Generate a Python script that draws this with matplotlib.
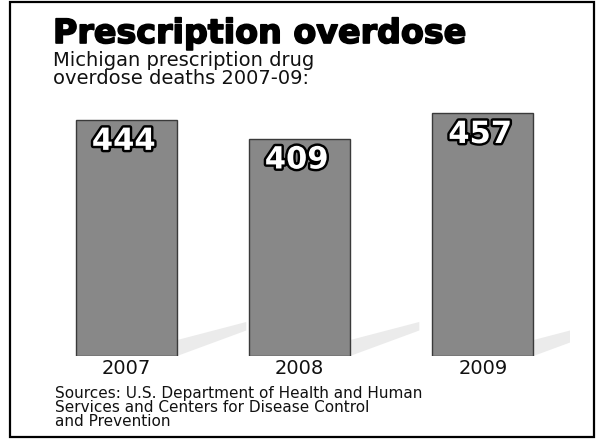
import matplotlib
matplotlib.use("Agg")
import matplotlib.pyplot as plt
import matplotlib.patheffects as pe
from matplotlib.patches import Rectangle, Polygon

years = ["2007", "2008", "2009"]
deaths = [444, 409, 457]

title = "Prescription overdose"
subtitle = "Michigan prescription drug\noverdose deaths 2007-09:"
source = ("Sources: U.S. Department of Health and Human\n"
          "Services and Centers for Disease Control\n"
          "and Prevention")

xpos = [0, 1, 2.06]
bar_w = 0.585

fig = plt.figure(figsize=(5.97, 4.44), dpi=100)
fig.patch.set_facecolor("white")

# outer frame
fig.patches.append(Rectangle((10 / 597, 7 / 444), 584 / 597, 435 / 444,
                             transform=fig.transFigure, fill=False,
                             edgecolor="black", linewidth=1.6))

ax = fig.add_axes([40 / 597, 88 / 444, 530 / 597, 260 / 444])
ax.set_xlim(-0.5, 2.5636)
ax.set_ylim(0, 489)
ax.axis("off")

# faint floor shadow to the right of each bar
for x, v in zip(xpos, deaths):
    r = x + bar_w / 2
    shadow = Polygon([(r, 0), (r, 30), (r + 0.4, 64), (r + 0.4, 48)],
                     closed=True, facecolor="#ebebeb", edgecolor="none", zorder=1)
    ax.add_patch(shadow)

bars = ax.bar(xpos, deaths, width=bar_w, color="#888888",
              edgecolor="#3a3a3a", linewidth=1.0, zorder=2)

for x, v in zip(xpos, deaths):
    ax.annotate(str(v), (x, v), xytext=(-2, -5), textcoords="offset points",
                ha="center", va="top", fontsize=22, fontweight="bold",
                color="white", zorder=3,
                path_effects=[pe.withStroke(linewidth=3.5, foreground="black")])

for x, y in zip(xpos, years):
    ax.text(x, -5, y, ha="center", va="top", fontsize=14, color="#111111")

fig.text(53 / 597, 1 - 43 / 444, title, ha="left", va="baseline",
         fontsize=24, fontweight="bold", color="black",
         path_effects=[pe.withStroke(linewidth=1.2, foreground="black")])
fig.text(53 / 597, 1 - 51 / 444, subtitle, ha="left", va="top",
         fontsize=14, linespacing=0.9, color="#111111")
fig.text(55 / 597, 1 - 386 / 444, source, ha="left", va="top",
         fontsize=11, linespacing=0.93, color="#111111")

fig.savefig("out.png", dpi=100)
